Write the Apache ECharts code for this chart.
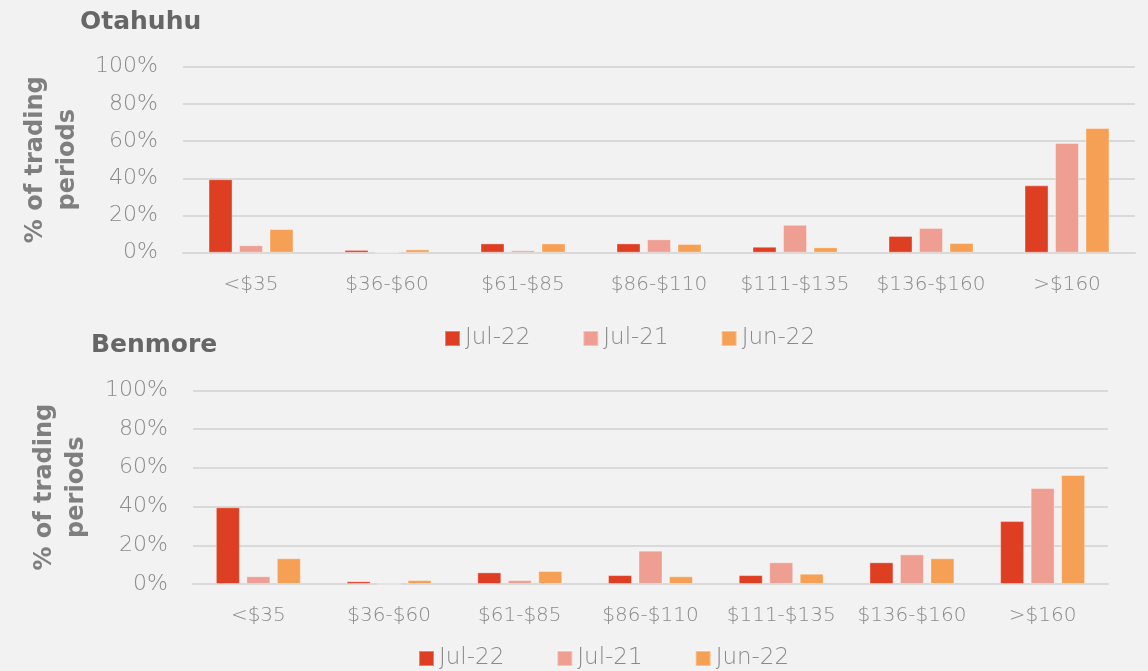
<!DOCTYPE html>
<html><head><meta charset="utf-8">
<script src="https://cdn.jsdelivr.net/npm/echarts@6/dist/echarts.min.js"></script>
<style>html,body{margin:0;padding:0;background:#f2f2f2;}#c{width:1148px;height:671px;}</style>
</head><body><div id="c"></div>
<script>
const categories = ['<$35', '$36-$60', '$61-$85', '$86-$110', '$111-$135', '$136-$160', '>$160'];
const seriesNames = ['Jul-22', 'Jul-21', 'Jun-22'];
const otahuhuJul22 = [39.5, 1.5, 5, 5, 3.2, 9, 36.2];
const otahuhuJul21 = [4, 0, 1.3, 7.2, 15, 13.3, 59];
const otahuhuJun22 = [12.7, 1.8, 5, 4.7, 2.9, 5.2, 67];
const benmoreJul22 = [39.6, 1.4, 6, 4.6, 4.6, 11.2, 32.5];
const benmoreJul21 = [4, 0, 2, 17.2, 11.2, 15.3, 49.6];
const benmoreJun22 = [13.3, 2, 6.7, 4, 5.3, 13.3, 56.3];
const panelTitles = ['Otahuhu', 'Benmore'];
const yAxisName = '% of trading\nperiods';

const colors = ['#de3e22', '#ee9f92', '#f6a055'];
const font = 'DejaVu Sans';
const gray = '#8a8a8a';

function xAxis(gi) {
  return {
    type: 'category', gridIndex: gi, data: categories,
    axisLine: {show: true, lineStyle: {color: '#d9d9d9', width: 2}},
    axisTick: {show: false},
    axisLabel: {interval: 0, color: gray, fontFamily: font, fontWeight: 200, fontSize: 20, margin: 22}
  };
}
function yAxis(gi, gap) {
  return {
    type: 'value', gridIndex: gi, min: 0, max: 100, interval: 20,
    name: yAxisName, nameLocation: 'middle', nameGap: gap, nameRotate: 90,
    nameTextStyle: {color: '#7f7f7f', fontFamily: font, fontSize: 24, fontWeight: 'bold', lineHeight: 32},
    axisLabel: {formatter: '{value}%', color: gray, fontFamily: font, fontWeight: 200, fontSize: 22, margin: 25},
    splitLine: {lineStyle: {color: '#d9d9d9', width: 2}},
    axisLine: {show: false}, axisTick: {show: false}
  };
}
function bar(name, data, gi, idx, bw) {
  return {
    type: 'bar', name: name, data: data, xAxisIndex: gi, yAxisIndex: gi,
    barWidth: bw, barGap: '27%',
    itemStyle: {color: colors[idx], borderColor: 'rgba(255,255,255,0.35)', borderWidth: 1}
  };
}
const legendBase = {
  data: seriesNames, icon: 'rect', itemWidth: 15, itemHeight: 15, itemGap: 52, padding: 0,
  textStyle: {color: gray, fontFamily: font, fontWeight: 200, fontSize: 23}, selectedMode: false
};
const chart = echarts.init(document.getElementById('c'));
chart.setOption({
  backgroundColor: '#f2f2f2',
  animation: false,
  title: [
    {text: panelTitles[0], left: 75, top: 5, textStyle: {color: '#666666', fontFamily: font, fontSize: 25, fontWeight: 'bold'}},
    {text: panelTitles[1], left: 86, top: 328, textStyle: {color: '#666666', fontFamily: font, fontSize: 25, fontWeight: 'bold'}}
  ],
  legend: [
    Object.assign({}, legendBase, {left: 444, top: 327}),
    Object.assign({}, legendBase, {left: 418, top: 647})
  ],
  grid: [
    {left: 183, top: 66.7, width: 952, height: 186},
    {left: 193, top: 390.3, width: 915, height: 193.7}
  ],
  xAxis: [xAxis(0), xAxis(1)],
  yAxis: [yAxis(0, 99), yAxis(1, 100)],
  series: [
    bar(seriesNames[0], otahuhuJul22, 0, 0, 24),
    bar(seriesNames[1], otahuhuJul21, 0, 1, 24),
    bar(seriesNames[2], otahuhuJun22, 0, 2, 24),
    bar(seriesNames[0], benmoreJul22, 1, 0, 24),
    bar(seriesNames[1], benmoreJul21, 1, 1, 24),
    bar(seriesNames[2], benmoreJun22, 1, 2, 24)
  ]
});
</script></body></html>
